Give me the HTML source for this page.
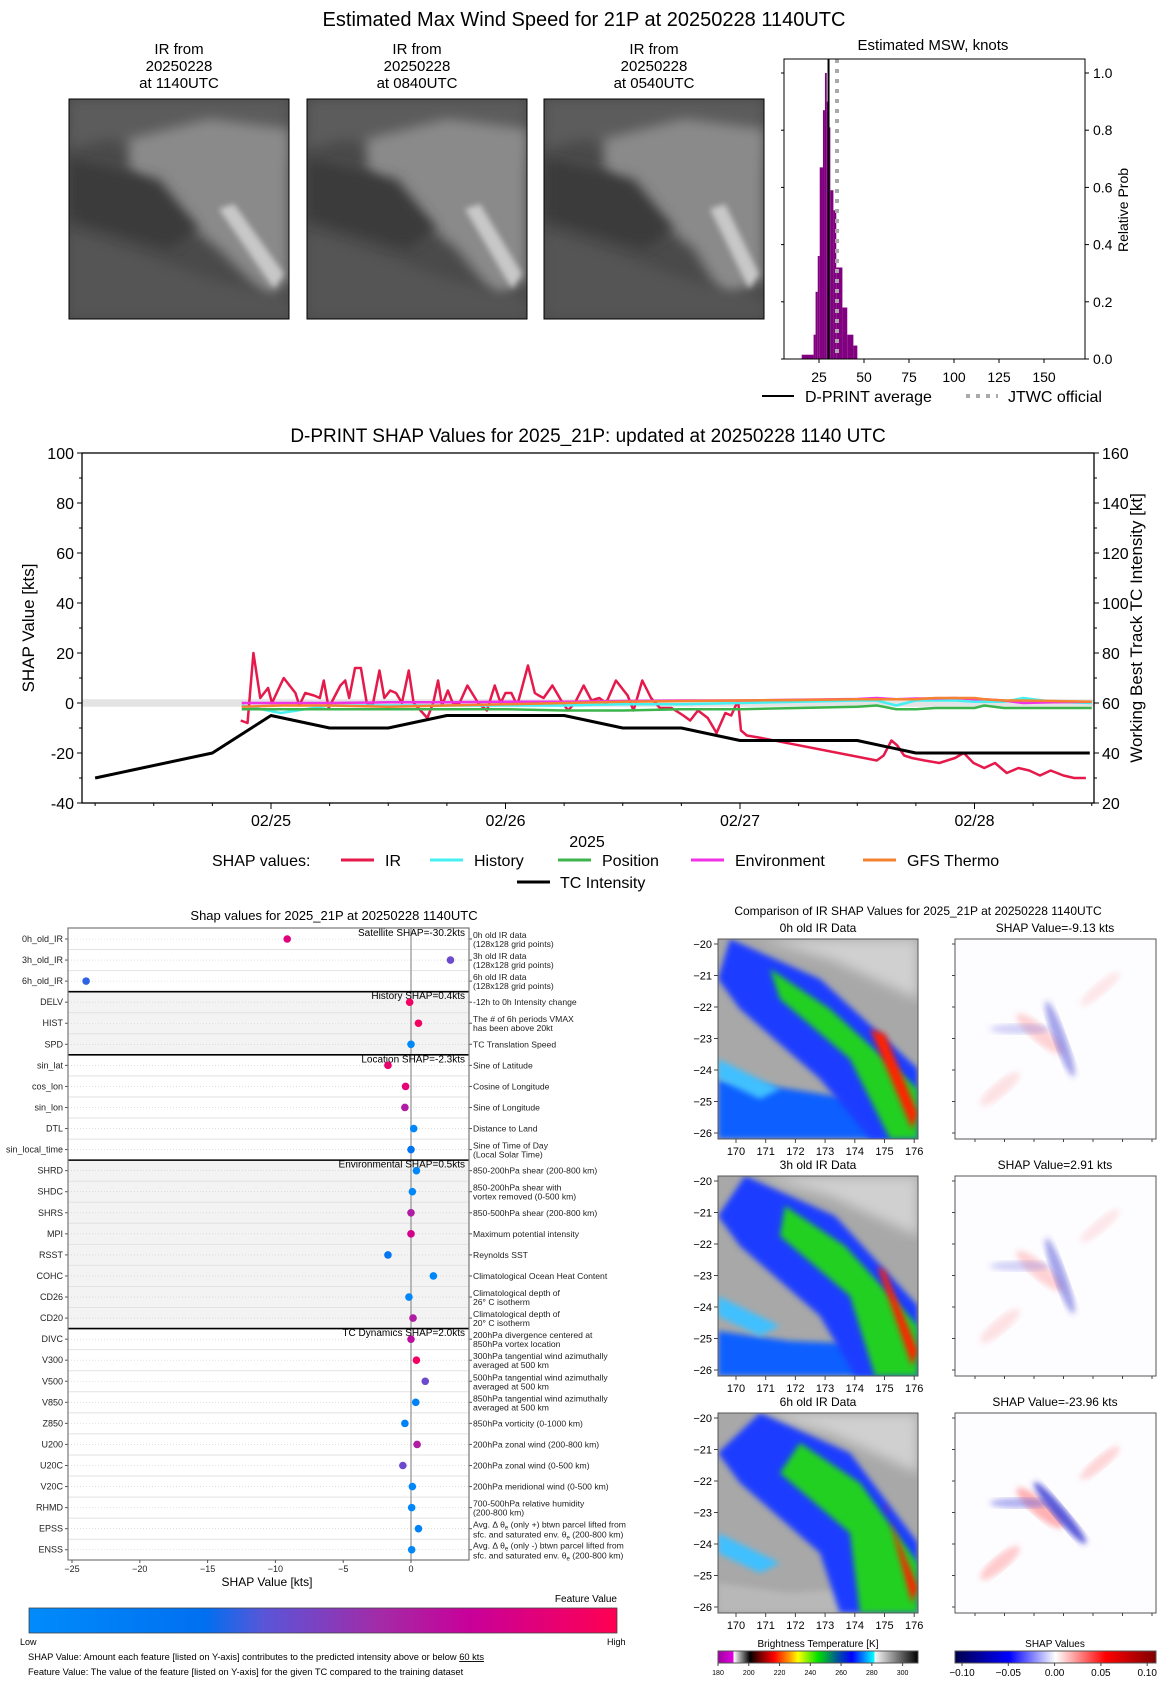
<!DOCTYPE html>
<html><head><meta charset="utf-8"><style>
body{margin:0;background:#fff}
svg{display:block;font-family:"Liberation Sans","DejaVu Sans",sans-serif}
</style></head><body>
<svg id="fig" width="1168" height="1683" viewBox="0 0 1168 1683" xmlns="http://www.w3.org/2000/svg">
<defs>
<filter id="blur6"><feGaussianBlur stdDeviation="6"/></filter>
<filter id="blur3"><feGaussianBlur stdDeviation="3"/></filter>
<linearGradient id="fvgrad" x1="0" x2="1" y1="0" y2="0">
<stop offset="0" stop-color="#008bfb"/><stop offset="0.3" stop-color="#0070f0"/><stop offset="0.4" stop-color="#5a55d8"/><stop offset="0.6" stop-color="#a42aa6"/><stop offset="0.75" stop-color="#c8009a"/><stop offset="1" stop-color="#ff0052"/>
</linearGradient>
<linearGradient id="btgrad" x1="0" x2="1" y1="0" y2="0">
<stop offset="0" stop-color="#a000a0"/><stop offset="0.075" stop-color="#e000e0"/><stop offset="0.08" stop-color="#ffffff"/><stop offset="0.16" stop-color="#000"/><stop offset="0.2" stop-color="#600000"/><stop offset="0.28" stop-color="#ff0000"/><stop offset="0.36" stop-color="#ffa000"/><stop offset="0.4" stop-color="#ffff00"/><stop offset="0.5" stop-color="#00e000"/><stop offset="0.6" stop-color="#0050a0"/><stop offset="0.67" stop-color="#0000ff"/><stop offset="0.78" stop-color="#00ffff"/><stop offset="0.785" stop-color="#f8f8f8"/><stop offset="1" stop-color="#000"/>
</linearGradient>
<linearGradient id="shgrad" x1="0" x2="1" y1="0" y2="0">
<stop offset="0" stop-color="#00004c"/><stop offset="0.27" stop-color="#0000ff"/><stop offset="0.5" stop-color="#ffffff"/><stop offset="0.75" stop-color="#ff0000"/><stop offset="1" stop-color="#800000"/>
</linearGradient>
<clipPath id="cIR0"><rect x="718" y="939" width="200" height="200"/></clipPath>
<clipPath id="cIR1"><rect x="718" y="1176" width="200" height="200"/></clipPath>
<clipPath id="cIR2"><rect x="718" y="1413" width="200" height="200"/></clipPath>
<clipPath id="cTop"><rect x="0" y="0" width="220" height="220"/></clipPath>
<clipPath id="cMain"><rect x="82" y="453" width="1012" height="350"/></clipPath>
</defs>

<text x="584" y="26" font-size="20" text-anchor="middle">Estimated Max Wind Speed for 21P at 20250228 1140UTC</text>

<g id="topimgs"></g>
<g id="hist"></g>
<g id="main"></g>
<g id="bar"></g>
<g id="cmp"></g>
</svg>
<script>
// ===== Histogram data =====
const binEdges=[15.4,22,23.1,24.3,25.4,27.2,28.3,29.3,30.2,31.3,33,34.6,38,40.7,44.1,46.3];
const binProbs=[0.015,0.085,0.235,0.36,0.67,0.87,1.0,0.9,0.81,0.59,0.52,0.32,0.18,0.085,0.047];
const dprintAvg=30.3;
const jtwcOfficial=35;
const histXTicks=[25,50,75,100,125,150];
const histYTicks=[0,0.2,0.4,0.6,0.8,1.0];
// ===== Main time series data (hours since 02/25 00Z) =====
const irHours=[-3.1,-2.4,-1.8,-1.1,-0.3,0.1,1.3,2.5,2.9,3.5,4.4,5.0,5.4,5.9,7.1,7.6,8.0,8.6,9.2,9.8,10.4,11.1,11.6,12.2,12.8,13.4,14.1,14.6,15.3,16.0,16.6,17.1,17.5,18.1,18.6,19.3,20.1,21.2,22.1,22.9,23.5,24.0,24.6,25.2,26.3,27.0,27.4,27.9,28.8,29.7,30.4,31.1,32.0,32.8,33.6,34.3,35.3,36.5,37.1,38.0,38.9,39.8,41.0,42.2,42.9,43.7,44.7,45.6,46.5,47.1,47.8,48.1,48.7,50.2,62.0,62.7,63.5,64.1,64.8,65.6,66.9,68.4,70.0,70.9,71.9,73.0,74.1,75.3,76.5,77.6,78.7,79.8,81.1,82.2,83.4];
const irVals=[-7,-8,20,2,6,0,10,4,-1,4,3,2,9,-2,7,9,2,14,14,0,-1,13,2,5,4,0,13,0,-3,-6,0,9,-1,5,0,0,7,0,-3,7,0,4,4,-1,15,4,3,2,7,1,-3,0,7,1,2,0,9,3,-3,9,2,-2,-2,-5,-7,-3,-6,-12,-4,-5,1,-11,-13,-14,-23,-21,-15,-17,-21,-22,-23,-24,-22,-20,-24,-26,-24,-28,-26,-27,-29,-27,-29,-30,-30];
const otherHours=[-3,1,6,12,18,24,30,36,42,48,54,60,62,64,66,68,70,72,73,75,77,80,84];
const historyVals=[-1,-4,-1,-1,-1,-1,-1,-0.5,-0.5,0,0.5,1,1,-1,1,1,1,0.5,0.5,0.5,2,0.5,0];
const positionVals=[-2.5,-2.5,-2.5,-2.5,-2.5,-2.5,-3,-3,-2.5,-2.5,-2,-1.5,-1,-2.5,-2.5,-2,-2,-2,-1,-2,-2,-2,-2];
const environmentVals=[0,0,0,0.3,0.3,0.5,0.5,0.8,1,1,1.3,1.6,2,1.5,1.8,1.8,2,1.5,1.5,1,0,0.3,0.5];
const gfsVals=[-1.5,-1,-1,-1.5,-1,-0.5,0,0.5,0.8,1,1.2,1.5,1.5,1.5,1.5,2,2,2,1.5,1,1,0.8,0.5];
const tcHours=[-18,-6,0,6,12,18,24,30,36,42,48,54,60,66,83.8];
const tcVals=[30,40,55,50,50,55,55,55,50,50,45,45,45,40,40];
const leftTicks=[-40,-20,0,20,40,60,80,100];
const rightTicks=[20,40,60,80,100,120,140,160];
const dateLabels=['02/25','02/26','02/27','02/28'];
// ===== Feature SHAP data =====
const features=['0h_old_IR','3h_old_IR','6h_old_IR','DELV','HIST','SPD','sin_lat','cos_lon','sin_lon','DTL','sin_local_time','SHRD','SHDC','SHRS','MPI','RSST','COHC','CD26','CD20','DIVC','V300','V500','V850','Z850','U200','U20C','V20C','RHMD','EPSS','ENSS'];
const shapVals=[-9.13,2.91,-23.96,-0.1,0.55,0,-1.7,-0.4,-0.45,0.2,0,0.4,0.1,0,0,-1.7,1.65,-0.15,0.15,0,0.4,1.05,0.35,-0.45,0.45,-0.6,0.1,0.05,0.55,0.05];
const featVals=[0.85,0.45,0.35,0.95,0.95,0.05,0.9,0.88,0.65,0.05,0.25,0.05,0.05,0.65,0.8,0.25,0.05,0.05,0.65,0.7,0.95,0.45,0.08,0.1,0.65,0.45,0.05,0.05,0.1,0.05];
const descs=[['0h old IR data','(128x128 grid points)'],['3h old IR data','(128x128 grid points)'],['6h old IR data','(128x128 grid points)'],['-12h to 0h Intensity change'],['The # of 6h periods VMAX','has been above 20kt'],['TC Translation Speed'],['Sine of Latitude'],['Cosine of Longitude'],['Sine of Longitude'],['Distance to Land'],['Sine of Time of Day','(Local Solar Time)'],['850-200hPa shear (200-800 km)'],['850-200hPa shear with','vortex removed (0-500 km)'],['850-500hPa shear (200-800 km)'],['Maximum potential intensity'],['Reynolds SST'],['Climatological Ocean Heat Content'],['Climatological depth of','26° C isotherm'],['Climatological depth of','20° C isotherm'],['200hPa divergence centered at','850hPa vortex location'],['300hPa tangential wind azimuthally','averaged at 500 km'],['500hPa tangential wind azimuthally','averaged at 500 km'],['850hPa tangential wind azimuthally','averaged at 500 km'],['850hPa vorticity (0-1000 km)'],['200hPa zonal wind (200-800 km)'],['200hPa zonal wind (0-500 km)'],['200hPa meridional wind (0-500 km)'],['700-500hPa relative humidity','(200-800 km)'],['EPSS'],['ENSS']];
const sectionNames=['Satellite SHAP=-30.2kts','History SHAP=0.4kts','Location SHAP=-2.3kts','Environmental SHAP=0.5kts','TC Dynamics SHAP=2.0kts'];
const sectionStarts=[0,3,6,11,19];
const shapXTicks=[-25,-20,-15,-10,-5,0];
const panelShap=['-9.13','2.91','-23.96'];
const panelNames=['0h old IR Data','3h old IR Data','6h old IR Data'];

const NS='http://www.w3.org/2000/svg';
function mk(parent,tag,attrs,text){const e=document.createElementNS(NS,tag);for(const k in attrs)e.setAttribute(k,attrs[k]);if(text!==undefined)e.textContent=text;parent.appendChild(e);return e;}

// ===== Top IR images =====
(function(){
const topG=document.getElementById('topimgs');
const imgX=[69,307,544], imgT=[['IR from','20250228','at 1140UTC'],['IR from','20250228','at 0840UTC'],['IR from','20250228','at 0540UTC']];
imgX.forEach((x,i)=>{
  const g=mk(topG,'g',{transform:`translate(${x},99)`});
  
  
  const ig=mk(g,'g',{'clip-path':'url(#cTop)'});
  mk(ig,'rect',{x:0,y:0,width:220,height:220,fill:'#4a4a4a'});
  mk(ig,'polygon',{points:'0,0 220,0 220,60 150,90 100,60 40,40 0,50',fill:'#5c5c5c',filter:'url(#blur6)'});
  mk(ig,'polygon',{points:`60,40 140,20 220,30 220,180 ${200-i*10},200 150,150 100,110 60,70`,fill:'#8a8a8a',filter:'url(#blur6)'});
  mk(ig,'polygon',{points:`${150+i*8},110 ${165+i*8},105 215,175 205,190`,fill:'#c8c8c8',filter:'url(#blur3)'});
  mk(ig,'polygon',{points:'0,130 60,150 140,180 220,200 220,220 0,220',fill:'#555',filter:'url(#blur6)'});
  mk(ig,'polygon',{points:'0,60 90,80 130,130 100,150 0,120',fill:'#3a3a3a',filter:'url(#blur6)'});
  mk(g,'rect',{x:0,y:0,width:220,height:220,fill:'none',stroke:'#000','stroke-width':1});
  imgT[i].forEach((t,j)=>{const tt=mk(topG,'text',{x:x+110,y:54+j*17,'font-size':15,'text-anchor':'middle'},t);
    
    });
});
})();

// ===== Histogram =====
(function(){
  const g=document.getElementById('hist');
  const L=784,R=1085,T=59,B=359;
  const xs=v=>819+(v-25)*1.8, ys=p=>B-p*286;
  const tt=mk(g,'text',{x:933,y:50,'font-size':15,'text-anchor':'middle'},'Estimated MSW, knots');
  
  
  binProbs.forEach((p,i)=>{const r=mk(g,'rect',{x:xs(binEdges[i]),y:ys(p),width:xs(binEdges[i+1])-xs(binEdges[i]),height:B-ys(p),fill:'#800080'});
    
    });
  const a=mk(g,'line',{x1:xs(dprintAvg),x2:xs(dprintAvg),y1:T,y2:B,stroke:'#000','stroke-width':2});
  
  
  const j=mk(g,'line',{x1:xs(jtwcOfficial),x2:xs(jtwcOfficial),y1:T,y2:B,stroke:'#aaa','stroke-width':4,'stroke-dasharray':'4 6'});
  
  
  mk(g,'rect',{x:L,y:T,width:R-L,height:B-T,fill:'none',stroke:'#000','stroke-width':1});
  histXTicks.forEach(v=>{mk(g,'line',{x1:xs(v),x2:xs(v),y1:B,y2:B+4,stroke:'#000'});
    const t=mk(g,'text',{x:xs(v),y:382,'font-size':14,'text-anchor':'middle'},String(v));
    
    });
  histYTicks.forEach(v=>{mk(g,'line',{x1:R,x2:R+4,y1:ys(v),y2:ys(v),stroke:'#000'});mk(g,'line',{x1:L-3,x2:L,y1:ys(v),y2:ys(v),stroke:'#000'});
    const t=mk(g,'text',{x:R+8,y:ys(v)+5,'font-size':14},v.toFixed(1));
    
    });
  const yl=mk(g,'text',{x:0,y:0,'font-size':14,'text-anchor':'middle',transform:'translate(1128,210) rotate(-90)'},'Relative Prob');
  
  
  mk(g,'line',{x1:762,x2:794,y1:396,y2:396,stroke:'#000','stroke-width':2});
  const l1=mk(g,'text',{x:805,y:402,'font-size':16},'D-PRINT average');
  
  
  mk(g,'line',{x1:966,x2:998,y1:396,y2:396,stroke:'#aaa','stroke-width':4,'stroke-dasharray':'4 6'});
  const l2=mk(g,'text',{x:1008,y:402,'font-size':16},'JTWC official');
  
  
})();

// ===== Main time series =====
(function(){
  const g=document.getElementById('main');
  const L=82,R=1094,T=453,B=803;
  const xs=h=>271+h*234.5/24, ys=v=>T+(100-v)*2.5, yr=v=>T+(160-v)*2.5;
  const t=mk(g,'text',{x:588,y:442,'font-size':19,'text-anchor':'middle'},'D-PRINT SHAP Values for 2025_21P: updated at 20250228 1140 UTC');
  
  
  const band=mk(g,'rect',{x:L,y:ys(1.5),width:R-L,height:ys(-1.5)-ys(1.5),fill:'#e3e3e3'});
  
  
  const cg=mk(g,'g',{'clip-path':'url(#cMain)'});
  function line(hours,vals,col,w,name,yf){const p=mk(cg,'polyline',{points:hours.map((h,i)=>xs(h)+','+yf(vals[i])).join(' '),fill:'none',stroke:col,'stroke-width':w,'stroke-linejoin':'round'});
    
    }
  line(irHours,irVals,'#e6194b',2.5,'ir-shap-line',ys);
  line(otherHours,historyVals,'#46f0f0',2.5,'history-shap-line',ys);
  line(otherHours,positionVals,'#3cb44b',2.5,'position-shap-line',ys);
  line(otherHours,environmentVals,'#f032e6',2.5,'environment-shap-line',ys);
  line(otherHours,gfsVals,'#f58231',2.5,'gfs-thermo-shap-line',ys);
  line(tcHours,tcVals,'#000',3,'tc-intensity-line',yr);
  mk(g,'rect',{x:L,y:T,width:R-L,height:B-T,fill:'none',stroke:'#000','stroke-width':1.3});
  for(let v=-40;v<=100;v+=10){const big=leftTicks.includes(v);mk(g,'line',{x1:L-(big?5:3),x2:L,y1:ys(v),y2:ys(v),stroke:'#000'});}
  leftTicks.forEach(v=>{const tx=mk(g,'text',{x:L-8,y:ys(v)+6,'font-size':16,'text-anchor':'end'},String(v));
    
    });
  for(let v=20;v<=160;v+=10){const big=rightTicks.includes(v);mk(g,'line',{x1:R,x2:R+(big?5:3),y1:yr(v),y2:yr(v),stroke:'#000'});}
  rightTicks.forEach(v=>{const tx=mk(g,'text',{x:R+8,y:yr(v)+6,'font-size':16},String(v));
    
    });
  for(let h=-18;h<=84;h+=6){const big=h%24===0;mk(g,'line',{x1:xs(h),x2:xs(h),y1:B,y2:B+(big?6:3),stroke:'#000'});}
  dateLabels.forEach((d,i)=>{const tx=mk(g,'text',{x:xs(i*24),y:826,'font-size':16,'text-anchor':'middle'},d);
    
    });
  const yr2=mk(g,'text',{x:587,y:847,'font-size':16,'text-anchor':'middle'},'2025');
  
  
  const yl=mk(g,'text',{x:0,y:0,'font-size':17,'text-anchor':'middle',transform:'translate(34,628) rotate(-90)'},'SHAP Value [kts]');
  
  
  const yl2=mk(g,'text',{x:0,y:0,'font-size':17,'text-anchor':'middle',transform:'translate(1142,628) rotate(-90)'},'Working Best Track TC Intensity [kt]');
  
  
  const lt=mk(g,'text',{x:212,y:866,'font-size':16},'SHAP values:');
  
  
  const leg=[['IR','#e6194b',341],['History','#46f0f0',430],['Position','#3cb44b',558],['Environment','#f032e6',691],['GFS Thermo','#f58231',863]];
  leg.forEach(([n,c,x])=>{mk(g,'line',{x1:x,x2:x+33,y1:860,y2:860,stroke:c,'stroke-width':3});
    const tx=mk(g,'text',{x:x+44,y:866,'font-size':16},n);
    
    });
  mk(g,'line',{x1:517,x2:550,y1:882,y2:882,stroke:'#000','stroke-width':3});
  const tc=mk(g,'text',{x:560,y:888,'font-size':16},'TC Intensity');
  
  
})();

// ===== Feature SHAP plot =====
function fvColor(f){const st=[[0,[0,139,251]],[0.3,[0,112,240]],[0.4,[90,85,216]],[0.6,[164,42,166]],[0.75,[200,0,154]],[1,[255,0,82]]];
  for(let i=0;i<st.length-1;i++){if(f<=st[i+1][0]){const t=(f-st[i][0])/(st[i+1][0]-st[i][0]);const c=st[i][1].map((a,k)=>Math.round(a+(st[i+1][1][k]-a)*t));return 'rgb('+c.join(',')+')';}}return 'rgb(255,0,82)';}
(function(){
  const g=document.getElementById('bar');
  const L=68,R=469,T=928,B=1560,row=21.06,y0=939;
  const xs=v=>411+v*13.56, yy=i=>y0+i*row;
  const DX=473;
  const t=mk(g,'text',{x:334,y:920,'font-size':13,'text-anchor':'middle'},'Shap values for 2025_21P at 20250228 1140UTC');
  
  
  const bounds=sectionStarts.concat([features.length]);
  sectionStarts.forEach((s,k)=>{const y1=k===0?T:yy(s)-row/2, y2=k===sectionStarts.length-1?B:yy(bounds[k+1])-row/2;
    const r=mk(g,'rect',{x:L,y:y1,width:R-L,height:y2-y1,fill:k%2?'#f3f3f3':'#fff'});
    
    });
  features.forEach((f,i)=>{if(i>0)mk(g,'line',{x1:L,x2:R,y1:yy(i)-row/2,y2:yy(i)-row/2,stroke:'#e2e2e2'});
    mk(g,'line',{x1:L,x2:R,y1:yy(i),y2:yy(i),stroke:'#ccc','stroke-dasharray':'1 2','stroke-width':0.6});});
  mk(g,'line',{x1:xs(0),x2:xs(0),y1:T,y2:B,stroke:'#999','stroke-width':1.3});
  sectionStarts.forEach((s,k)=>{if(k>0)mk(g,'line',{x1:L,x2:R,y1:yy(s)-row/2,y2:yy(s)-row/2,stroke:'#000','stroke-width':1.6});
    const tx=mk(g,'text',{x:R-4,y:yy(s)-3,'font-size':10,'text-anchor':'end'},sectionNames[k]);
    
    });
  features.forEach((f,i)=>{
    const c=mk(g,'circle',{cx:xs(shapVals[i]),cy:yy(i),r:3.8,fill:fvColor(featVals[i])});
    
    
    mk(g,'line',{x1:L-3,x2:L,y1:yy(i),y2:yy(i),stroke:'#555'});
    mk(g,'line',{x1:R,x2:R+3,y1:yy(i),y2:yy(i),stroke:'#555'});
    const lb=mk(g,'text',{x:L-5,y:yy(i)+3,'font-size':9,'text-anchor':'end',fill:'#222'},f);
    
    
    const d=descs[i];
    if(f==='EPSS'||f==='ENSS'){
      const sign=f==='EPSS'?'+':'-';
      const t1=mk(g,'text',{x:DX,y:yy(i)-1,'font-size':8.6,fill:'#222'});
      
      
      mk(t1,'tspan',{},'Avg. Δ θ');mk(t1,'tspan',{'font-size':6,dy:2},'e');mk(t1,'tspan',{dy:-2},' (only '+sign+') btwn parcel lifted from');
      const t2=mk(g,'text',{x:DX,y:yy(i)+9,'font-size':8.6,fill:'#222'});
      
      
      mk(t2,'tspan',{},'sfc. and saturated env. θ');mk(t2,'tspan',{'font-size':6,dy:2},'e');mk(t2,'tspan',{dy:-2},' (200-800 km)');
    } else if(d.length===1){const tx=mk(g,'text',{x:DX,y:yy(i)+3,'font-size':8.6,fill:'#222'},d[0]);
      
      }
    else{d.forEach((s,j)=>{const tx=mk(g,'text',{x:DX,y:yy(i)-1+j*9,'font-size':8.6,fill:'#222'},s);
      
      });}
  });
  mk(g,'rect',{x:L,y:T,width:R-L,height:B-T,fill:'none',stroke:'#777','stroke-width':1.2});
  shapXTicks.forEach(v=>{mk(g,'line',{x1:xs(v),x2:xs(v),y1:B,y2:B+3,stroke:'#555'});
    const tx=mk(g,'text',{x:xs(v),y:1572,'font-size':9,'text-anchor':'middle',fill:'#222'},v<0?'−'+Math.abs(v):String(v));
    
    });
  const xl=mk(g,'text',{x:267,y:1586,'font-size':12,'text-anchor':'middle'},'SHAP Value [kts]');
  
  
  const cb=mk(g,'rect',{x:29,y:1608,width:588,height:25,fill:'url(#fvgrad)',stroke:'#444','stroke-width':0.8});
  
  
  const fv=mk(g,'text',{x:617,y:1602,'font-size':10,'text-anchor':'end'},'Feature Value');
  
  
  const lo=mk(g,'text',{x:20,y:1645,'font-size':9},'Low');
  
  
  const hi=mk(g,'text',{x:607,y:1645,'font-size':9},'High');
  
  
  const n1=mk(g,'text',{x:28,y:1660,'font-size':9.3});
  
  
  mk(n1,'tspan',{},'SHAP Value: Amount each feature [listed on Y-axis] contributes to the predicted intensity above or below ');mk(n1,'tspan',{'text-decoration':'underline'},'60 kts');
  const n2=mk(g,'text',{x:28,y:1675,'font-size':9.3},'Feature Value: The value of the feature [listed on Y-axis] for the given TC compared to the training dataset');
  
  
})();

// ===== Comparison panels =====
(function(){
  const g=document.getElementById('cmp');
  const t=mk(g,'text',{x:918,y:915,'font-size':12,'text-anchor':'middle'},'Comparison of IR SHAP Values for 2025_21P at 20250228 1140UTC');
  
  
  [939,1176,1413].forEach((y,k)=>{
    const ig=mk(g,'g',{'clip-path':'url(#cIR'+k+')'});
    
    
    mk(ig,'rect',{x:718,y:y,width:200,height:200,fill:'#a8a8a8'});
    mk(ig,'polygon',{points:`718,${y} 918,${y} 918,${y+60} 830,${y+20} 760,${y}`,fill:'#d0d0d0',filter:'url(#blur6)'});
    const s=k*15;
    mk(ig,'polygon',{points:`718,${y+140+s} 790,${y+150+s} 918,${y+170} 918,${y+200} 718,${y+200}`,fill:k==2?'#b8b8b8':'#1060ff',filter:'url(#blur3)'});
    mk(ig,'polygon',{points:`${730+s},${y} ${820+s},${y+40} 918,${y+130} 918,${y+200} ${870-s},${y+200} 820,${y+140} 740,${y+70} 718,${y+40}`,fill:'#1a3cff',filter:'url(#blur3)'});
    mk(ig,'polygon',{points:`${770+s},${y+30} ${830+s},${y+70} 918,${y+150} 918,${y+200} ${890-s},${y+200} 850,${y+120} 780,${y+60}`,fill:'#20d020',filter:'url(#blur3)'});
    mk(ig,'polygon',{points:`${870+s/2},${y+90} 885,${y+95} 918,${y+175} 912,${y+190}`,fill:'#ff2000',filter:'url(#blur3)'});
    mk(ig,'polygon',{points:`718,${y+120} 780,${y+150} 760,${y+160} 718,${y+140}`,fill:'#40c0ff',filter:'url(#blur3)'});
    mk(g,'rect',{x:718,y:y,width:200,height:200,fill:'none',stroke:'#555'});
    const pt=mk(g,'text',{x:818,y:y-7,'font-size':12,'text-anchor':'middle'},panelNames[k]);
    
    
    for(let d=-20;d>=-26;d--){const yv=y+5+(-20-d)*31.5;mk(g,'line',{x1:714,x2:718,y1:yv,y2:yv,stroke:'#444'});
      const tx=mk(g,'text',{x:712,y:yv+4,'font-size':11,'text-anchor':'end'},'−'+Math.abs(d));
      
      }
    for(let d=170;d<=176;d++){const xx=736+(d-170)*29.7;mk(g,'line',{x1:xx,x2:xx,y1:y+200,y2:y+204,stroke:'#444'});
      const tx=mk(g,'text',{x:xx,y:y+216,'font-size':11,'text-anchor':'middle'},String(d));
      
      }
    const sg=mk(g,'g',{});
    
    
    mk(sg,'rect',{x:955,y:y,width:201,height:200,fill:'#fdfcff'});
    const a=k===2?0.8:0.45;
    mk(sg,'ellipse',{cx:1040,cy:y+95,rx:30,ry:8,fill:'#ff6060','fill-opacity':a*0.6,filter:'url(#blur3)',transform:`rotate(40 1040 ${y+95})`});
    mk(sg,'ellipse',{cx:1060,cy:y+100,rx:40,ry:6,fill:'#3030d0','fill-opacity':a,filter:'url(#blur3)',transform:`rotate(${k==2?50:70} 1060 ${y+100})`});
    mk(sg,'ellipse',{cx:1020,cy:y+90,rx:30,ry:5,fill:'#6060e0','fill-opacity':a*0.6,filter:'url(#blur3)'});
    mk(sg,'ellipse',{cx:1000,cy:y+150,rx:25,ry:7,fill:'#ff8080','fill-opacity':a*0.5,filter:'url(#blur3)',transform:`rotate(-40 1000 ${y+150})`});
    mk(sg,'ellipse',{cx:1100,cy:y+50,rx:25,ry:6,fill:'#ff8080','fill-opacity':a*0.4,filter:'url(#blur3)',transform:`rotate(-40 1100 ${y+50})`});
    mk(g,'rect',{x:955,y:y,width:201,height:200,fill:'none',stroke:'#555'});
    for(let j=0;j<7;j++){mk(g,'line',{x1:952,x2:955,y1:y+5+j*31.5,y2:y+5+j*31.5,stroke:'#444'});mk(g,'line',{x1:975+j*29.5,x2:975+j*29.5,y1:y+200,y2:y+203,stroke:'#444'});}
    const st=mk(g,'text',{x:1055,y:y-7,'font-size':12,'text-anchor':'middle'},'SHAP Value='+panelShap[k]+' kts');
    
    
  });
  const bt=mk(g,'text',{x:818,y:1647,'font-size':10,'text-anchor':'middle'},'Brightness Temperature [K]');
  
  
  const c1=mk(g,'rect',{x:718,y:1651,width:200,height:12,fill:'url(#btgrad)',stroke:'#555'});
  
  
  [180,200,220,240,260,280,300].forEach(v=>{const xx=718+(v-180)*200/130;mk(g,'line',{x1:xx,x2:xx,y1:1663,y2:1666,stroke:'#444'});
    const tx=mk(g,'text',{x:xx,y:1675,'font-size':7,'text-anchor':'middle'},String(v));
    
    });
  const sv=mk(g,'text',{x:1055,y:1647,'font-size':10,'text-anchor':'middle'},'SHAP Values');
  
  
  const c2=mk(g,'rect',{x:955,y:1651,width:201,height:12,fill:'url(#shgrad)',stroke:'#555'});
  
  
  ['−0.10','−0.05','0.00','0.05','0.10'].forEach((s,i)=>{const xx=962+i*46.3;mk(g,'line',{x1:xx,x2:xx,y1:1663,y2:1666,stroke:'#444'});
    const tx=mk(g,'text',{x:xx,y:1676,'font-size':10,'text-anchor':'middle'},s);
    
    });
})();
</script>
</body></html>
